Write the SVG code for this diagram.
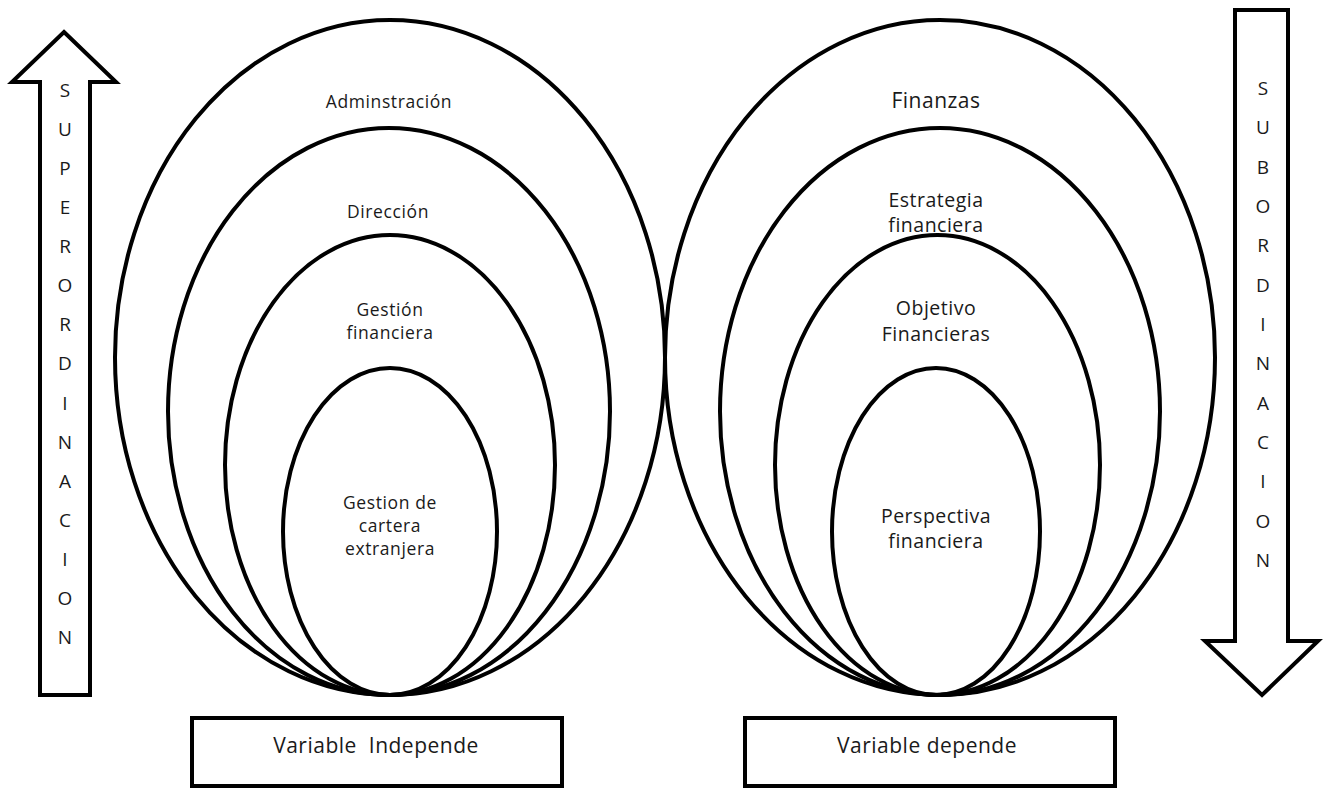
<svg xmlns="http://www.w3.org/2000/svg" width="1329" height="789" viewBox="0 0 1329 789">
<style>
.sh{fill:none;stroke:#000;stroke-width:4}
.ar{fill:#fff;stroke:#000;stroke-width:4;stroke-linejoin:miter}
.t{font-family:"Open Sans","Noto Sans",sans-serif;fill:#1a1a1a;text-anchor:middle}
.l{font-size:17.5px;letter-spacing:0.6px}
.r{font-size:19.5px;letter-spacing:0.5px}
.c{font-size:19px}
.b{font-size:21px;letter-spacing:0.5px}
</style>
<rect width="1329" height="789" fill="#fff"/>
<g id="arrow-superordinacion">
<polygon class="ar" points="64,32 116,82 90,82 90,695 40,695 40,82 12,82"/>
<g class="t c">
<text x="65" y="97">S</text><text x="65" y="136">U</text><text x="65" y="175">P</text><text x="65" y="214">E</text><text x="65" y="253">R</text><text x="65" y="292">O</text><text x="65" y="331">R</text><text x="65" y="370">D</text><text x="65" y="410">I</text><text x="65" y="449">N</text><text x="65" y="488">A</text><text x="65" y="527">C</text><text x="65" y="566">I</text><text x="65" y="605">O</text><text x="65" y="644">N</text>
</g>
</g>
<g id="arrow-subordinacion">
<polygon class="ar" points="1235,10 1288,10 1288,641 1318,641 1262,695 1205,641 1235,641"/>
<g class="t c">
<text x="1263" y="95">S</text><text x="1263" y="134">U</text><text x="1263" y="174">B</text><text x="1263" y="213">O</text><text x="1263" y="252">R</text><text x="1263" y="292">D</text><text x="1263" y="331">I</text><text x="1263" y="370">N</text><text x="1263" y="410">A</text><text x="1263" y="449">C</text><text x="1263" y="488">I</text><text x="1263" y="528">O</text><text x="1263" y="567">N</text>
</g>
</g>
<g id="left-set">
<g id="adminstracion"><ellipse class="sh" cx="390" cy="357.5" rx="275" ry="337.5"/><text class="t l" x="389" y="108">Adminstración</text></g>
<g id="direccion"><ellipse class="sh" cx="389" cy="411.5" rx="221" ry="283.5"/><text class="t l" x="388" y="218">Dirección</text></g>
<g id="gestion-financiera"><ellipse class="sh" cx="390" cy="465" rx="165" ry="230"/><text class="t l" x="390" y="316">Gestión</text><text class="t l" x="390" y="339">financiera</text></g>
<g id="gestion-cartera"><ellipse class="sh" cx="390" cy="531.5" rx="107" ry="163.5"/><text class="t l" x="390" y="509">Gestion de</text><text class="t l" x="390" y="532">cartera</text><text class="t l" x="390" y="555">extranjera</text></g>
</g>
<g id="right-set">
<g id="finanzas"><ellipse class="sh" cx="940" cy="357.5" rx="275" ry="337.5"/><text class="t r" x="936" y="108" style="font-size:21px">Finanzas</text></g>
<g id="estrategia"><ellipse class="sh" cx="940" cy="411.5" rx="220" ry="283.5"/><text class="t r" x="936" y="207">Estrategia</text><text class="t r" x="936" y="232">financiera</text></g>
<g id="objetivo"><ellipse class="sh" cx="937.5" cy="465" rx="162.5" ry="230"/><text class="t r" x="936" y="315">Objetivo</text><text class="t r" x="936" y="341">Financieras</text></g>
<g id="perspectiva"><ellipse class="sh" cx="936" cy="531.5" rx="104" ry="163.5"/><text class="t r" x="936" y="523">Perspectiva</text><text class="t r" x="936" y="548">financiera</text></g>
</g>
<g id="box-independe"><rect class="sh" x="192" y="718" width="370" height="68"/><text class="t b" x="376" y="753" xml:space="preserve">Variable  Independe</text></g>
<g id="box-depende"><rect class="sh" x="745" y="718" width="370" height="68"/><text class="t b" x="927" y="753">Variable depende</text></g>
<g id="connectors"></g>
</svg>
